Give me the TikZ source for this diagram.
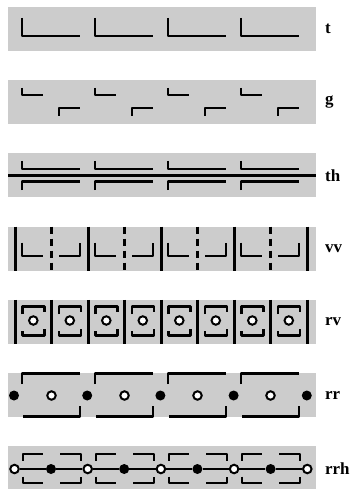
\documentclass[tikz,border=0pt]{standalone}
\usepackage{fontspec}
\setmainfont{Liberation Serif}
\begin{document}
\begin{tikzpicture}[x=1bp,y=-1bp,
  band/.style={fill=black!20, draw=none},
  stroke/.style={line width=2.5bp, line join=round},
  bar/.style={line width=3bp},
  dashbar/.style={line width=2.8bp, dash pattern=on 7bp off 5bp},
  axis/.style={line width=2.8bp},
  thin/.style={line width=1.8bp},
  hole/.style={circle, draw, fill=white, line width=2bp, minimum size=8.5bp, inner sep=0pt},
  dot/.style={circle, fill=black, minimum size=10bp, inner sep=0pt},
  lbl/.style={font=\bfseries\fontsize{17}{17}\selectfont, anchor=west, inner sep=0pt}]
\useasboundingbox (0,0) rectangle (357,489);

% grey bands, 44bp tall, every 73.2bp
\foreach \i in {0,...,6}{
  \pgfmathsetmacro\top{7+73.2*\i}
  \fill[band] (8,\top) rectangle (316,{\top+44});
}

% ---- t : plain L shapes
\foreach \k in {0,...,3}{
  \pgfmathsetmacro\xo{22+73*\k}
  \draw[stroke] (\xo,18) -- (\xo,36) -- ({\xo+58},36);
}
\node[lbl] (lab-t) at (325,29) {t};

% ---- g : staggered halves
\foreach \k in {0,...,3}{
  \pgfmathsetmacro\xo{22+73*\k}
  \draw[stroke] (\xo,88) -- (\xo,95) -- ({\xo+21},95);
  \draw[stroke] ({\xo+37},116) -- ({\xo+37},108) -- ({\xo+58},108);
}
\node[lbl] (lab-g) at (325,102) {g};

% ---- th : mirrored pairs about a through line
\draw[axis] (8,175.4) -- (316,175.4);
\foreach \k in {0,...,3}{
  \pgfmathsetmacro\xo{22+73*\k}
  \draw[stroke] (\xo,161) -- (\xo,169) -- ({\xo+58},169);
  \draw[stroke] (\xo,190) -- (\xo,181.5) -- ({\xo+58},181.5);
}
\node[lbl] (lab-th) at (325,175.4) {th};

% ---- vv : bars, dashed dividers and corner pieces
\foreach \k in {0,...,4}{
  \pgfmathsetmacro\xb{15+73*\k}
  \draw[bar] (\xb,226.6) -- (\xb,270.6);
}
\foreach \k in {0,...,3}{
  \pgfmathsetmacro\xo{22+73*\k}
  \draw[dashbar] ({\xo+29.5},226.6) -- ({\xo+29.5},270.6);
  \draw[stroke] (\xo,242.5) -- (\xo,256) -- ({\xo+21},256);
  \draw[stroke] ({\xo+37},256) -- ({\xo+58},256) -- ({\xo+58},242.5);
}
\node[lbl] (lab-vv) at (325,248.6) {vv};

% ---- rv : framed cells with open centres
\foreach \k in {0,...,8}{
  \pgfmathsetmacro\xb{15+36.5*\k}
  \draw[bar] (\xb,299.8) -- (\xb,343.8);
}
\foreach \k in {0,...,7}{
  \pgfmathsetmacro\cx{33.3+36.5*\k}
  \draw[stroke] ({\cx-11},314) -- ({\cx-11},306.5) -- ({\cx+11},306.5) -- ({\cx+11},312);
  \draw[stroke] ({\cx-11},331) -- ({\cx-11},335.5) -- ({\cx+11},335.5) -- ({\cx+11},328.5);
  \node[hole] (rv-o\k) at (\cx,320.5) {};
}
\node[lbl] (lab-rv) at (325,321.8) {rv};

% ---- rr : alternating dots between hooked rails
\foreach \k in {0,...,3}{
  \pgfmathsetmacro\xo{22+73*\k}
  \draw[stroke] (\xo,384) -- (\xo,373.5) -- ({\xo+58},373.5);
  \draw[stroke] ({\xo+1},416.5) -- ({\xo+58},416.5) -- ({\xo+58},406);
  \node[hole] (rr-o\k) at ({\xo+29.5},395.5) {};
}
\foreach \k in {0,...,4}{
  \node[dot] (rr-d\k) at ({14+73.2*\k},395.5) {};
}
\node[lbl] (lab-rr) at (325,395) {rr};

% ---- rrh : chain of open and filled dots with brackets
\foreach \k in {0,...,3}{
  \pgfmathsetmacro\xo{22+73*\k}
  \draw[stroke] ({\xo+1},460.5) -- ({\xo+1},454) -- ({\xo+21},454);
  \draw[stroke] ({\xo+38},454) -- ({\xo+59},454) -- ({\xo+59},460.5);
  \draw[stroke] ({\xo+1},476.5) -- ({\xo+1},483) -- ({\xo+21},483);
  \draw[stroke] ({\xo+38},483) -- ({\xo+59},483) -- ({\xo+59},476.5);
}
\foreach \k in {0,...,4}{
  \node[hole] (rrh-o\k) at ({14.5+73.2*\k},469) {};
}
\foreach \k in {0,...,3}{
  \node[dot] (rrh-d\k) at ({51+73.2*\k},469) {};
}
\foreach \k [evaluate=\k as \n using int(\k+1)] in {0,...,3}{
  \draw[thin] (rrh-o\k) -- (rrh-d\k);
  \draw[thin] (rrh-d\k) -- (rrh-o\n);
}
\node[lbl] (lab-rrh) at (325,468.2) {rrh};
\end{tikzpicture}
\end{document}
